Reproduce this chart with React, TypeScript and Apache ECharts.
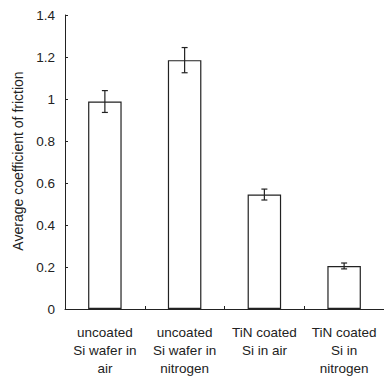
import React, { useEffect, useRef } from "react";
import * as echarts from "echarts";

const categories = [
  "uncoated\nSi wafer in\nair",
  "uncoated\nSi wafer in\nnitrogen",
  "TiN coated\nSi in air",
  "TiN coated\nSi in\nnitrogen",
];
const meanValues = [0.988, 1.185, 0.545, 0.205];
const errorValues = [0.052, 0.06, 0.026, 0.014];
const yTicks = { min: 0, max: 1.4, interval: 0.2 };
const yTitle = "Average coefficient of friction";

export default function App() {
  const ref = useRef<HTMLDivElement>(null);
  useEffect(() => {
    if (!ref.current) return;
    const chart = echarts.init(ref.current, null, { renderer: "svg" });
    const font = "Liberation Sans, Arial, sans-serif";
    const errData = meanValues.map((v, i) => [i, v - errorValues[i], v + errorValues[i]]);
    chart.setOption({
      animation: false,
      backgroundColor: "#fff",
      grid: { left: 65, top: 15, width: 323, height: 294, containLabel: false },
      graphic: [
        {
          type: "text",
          x: 18,
          y: 161,
          rotation: Math.PI / 2,
          style: {
            text: yTitle,
            fill: "#222",
            font: `14px ${font}`,
            align: "center",
            verticalAlign: "middle",
          },
        },
      ],
      xAxis: {
        type: "category",
        data: categories,
        axisLine: { lineStyle: { color: "#222", width: 1 } },
        axisTick: { show: true, inside: true, length: 3, lineStyle: { color: "#222" } },
        axisLabel: {
          interval: 0,
          color: "#222",
          fontFamily: font,
          fontSize: 13.5,
          lineHeight: 18,
          margin: 14,
          align: "center",
        },
      },
      yAxis: {
        type: "value",
        min: yTicks.min,
        max: yTicks.max,
        interval: yTicks.interval,
        splitLine: { show: false },
        axisLine: { show: true, lineStyle: { color: "#222", width: 1 } },
        axisTick: { show: true, inside: true, length: 3, lineStyle: { color: "#222" } },
        axisLabel: {
          color: "#222",
          fontFamily: font,
          fontSize: 13.5,
          margin: 10,
          formatter: (v: number) => String(Math.round(v * 10) / 10),
        },
      },
      series: [
        {
          type: "bar",
          data: meanValues,
          barWidth: "42%",
          itemStyle: { color: "#fff", borderColor: "#222", borderWidth: 1.2 },
          silent: true,
        },
        {
          type: "custom",
          data: errData,
          z: 10,
          renderItem: (params: any, api: any) => {
            const x = api.value(0);
            const lo = api.coord([x, api.value(1)]);
            const hi = api.coord([x, api.value(2)]);
            const cap = 3;
            const style = { stroke: "#222", lineWidth: 1.2 };
            return {
              type: "group",
              children: [
                { type: "line", shape: { x1: hi[0], y1: hi[1], x2: lo[0], y2: lo[1] }, style },
                { type: "line", shape: { x1: hi[0] - cap, y1: hi[1], x2: hi[0] + cap, y2: hi[1] }, style },
                { type: "line", shape: { x1: lo[0] - cap, y1: lo[1], x2: lo[0] + cap, y2: lo[1] }, style },
              ],
            };
          },
        },
      ],
    });
    return () => chart.dispose();
  }, []);
  return <div ref={ref} style={{ width: 384, height: 377, position: "absolute", left: 0, top: 0 }} />;
}
